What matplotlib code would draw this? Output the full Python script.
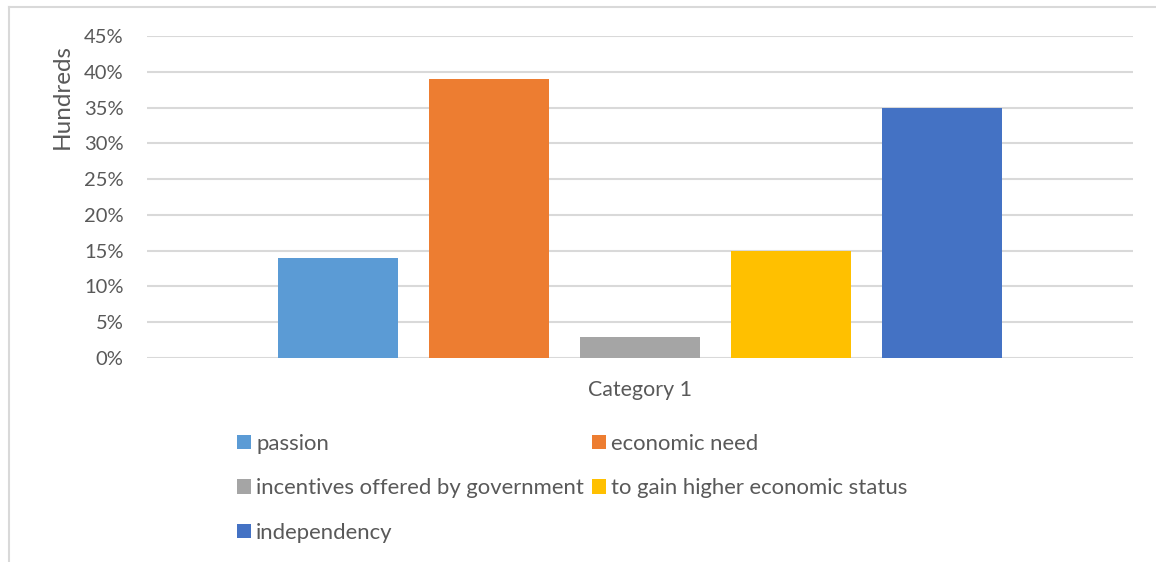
import matplotlib
matplotlib.use("Agg")
import matplotlib.pyplot as plt
from matplotlib.lines import Line2D
from matplotlib.ticker import FuncFormatter

categories = ["Category 1"]
series_names = [
    "passion",
    "economic need",
    "incentives offered by government",
    "to gain higher economic status",
    "independency",
]
series_values = [0.14, 0.39, 0.03, 0.15, 0.35]
series_colors = ["#5B9BD5", "#ED7D31", "#A5A5A5", "#FFC000", "#4472C4"]
y_ticks = [0.0, 0.05, 0.10, 0.15, 0.20, 0.25, 0.30, 0.35, 0.40, 0.45]
y_axis_title = "Hundreds"

TEXT = "#595959"
GRID = "#D9D9D9"
FONT = "Lato"
FS_TICK = 14.5
FS_CAT = 15.4
FS_TITLE = 17.5
FS_LEG = 15.9

W, H = 1156, 562
fig = plt.figure(figsize=(W / 100, H / 100), dpi=100)
fig.patch.set_facecolor("white")

# chart border (left and top edges)
fig.add_artist(Line2D([9 / W, 9 / W], [0, 1 - 7 / H], transform=fig.transFigure,
                      color=GRID, lw=1.5))
fig.add_artist(Line2D([9 / W, 1], [1 - 7 / H, 1 - 7 / H], transform=fig.transFigure,
                      color=GRID, lw=1.5))

left, right, top, bottom = 147, 1133, 36, 358
ax = fig.add_axes([left / W, 1 - bottom / H, (right - left) / W, (bottom - top) / H])

n = len(series_values)
pitch = 1.0
width = 120 / 151
offsets = [(i - (n - 1) / 2) * pitch for i in range(n)]
bars = []
for off, val, col, name in zip(offsets, series_values, series_colors, series_names):
    b = ax.bar(off, val, width=width, color=col, label=name, zorder=3)
    bars.append(b)

half = (right - left) / 2 / 151
ax.set_xlim(-half, half)
ax.set_ylim(0, 0.45)
ax.set_yticks(y_ticks)
ax.yaxis.set_major_formatter(FuncFormatter(lambda v, p: f"{round(v * 100):d}%"))
ax.set_xticks([0])
ax.set_xticklabels(categories)

for s in ax.spines.values():
    s.set_visible(False)
ax.yaxis.grid(True, color=GRID, lw=1.5, zorder=0)
ax.set_axisbelow(True)
ax.tick_params(axis="both", length=0, labelcolor=TEXT)
ax.tick_params(axis="y", pad=17, labelsize=FS_TICK)
ax.tick_params(axis="x", pad=16, labelsize=FS_CAT)
for lbl in ax.get_xticklabels() + ax.get_yticklabels():
    lbl.set_fontfamily(FONT)

fig.text(62 / W, 1 - 96.5 / H, y_axis_title, rotation=90, ha="center", va="center",
         color=TEXT, fontsize=FS_TITLE, fontfamily=FONT)

# legend laid out row-wise in two columns
order = [0, 2, 4, 1, 3]
handles = [bars[i] for i in order]
labels = [series_names[i] for i in order]
fs_px = FS_LEG * 100 / 72
leg = fig.legend(handles, labels, ncol=2, frameon=False,
                 loc="upper left", bbox_to_anchor=(237 / W, 1 - 434 / H),
                 borderpad=0, borderaxespad=0,
                 handlelength=14 / fs_px, handleheight=14 / fs_px,
                 handletextpad=5 / fs_px, columnspacing=8 / fs_px,
                 labelspacing=1.1,
                 prop={"family": FONT, "size": FS_LEG})
for t in leg.get_texts():
    t.set_color(TEXT)

fig.savefig("out.png", dpi=100)
